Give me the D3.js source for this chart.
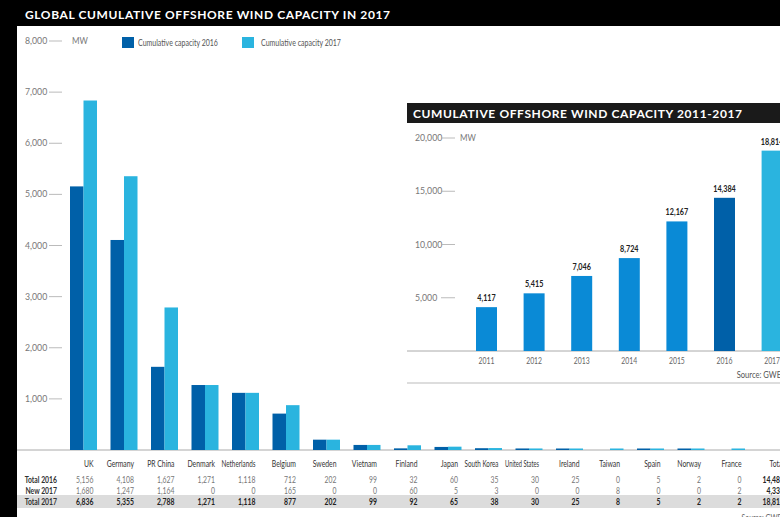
<!DOCTYPE html>
<html>
<head>
<meta charset="utf-8">
<script src="https://cdn.jsdelivr.net/npm/d3@7/dist/d3.min.js"></script>
<style>
  html, body { margin: 0; padding: 0; background: #000; }
  svg { display: block; }
  text { font-family: Lato, "Open Sans", sans-serif; }
</style>
</head>
<body>
<svg id="chart" width="780" height="517"></svg>
<script>
// Offshore wind capacity by country (MW)
const countries = ["UK", "Germany", "PR China", "Denmark", "Netherlands", "Belgium", "Sweden",
  "Vietnam", "Finland", "Japan", "South Korea", "United States", "Ireland", "Taiwan", "Spain",
  "Norway", "France"];
const total2016 = [5156, 4108, 1627, 1271, 1118, 712, 202, 99, 32, 60, 35, 30, 25, 0, 5, 2, 0];
const new2017 = [1680, 1247, 1164, 0, 0, 165, 0, 0, 60, 5, 3, 0, 0, 8, 0, 0, 2];
const total2017 = [6836, 5355, 2788, 1271, 1118, 877, 202, 99, 92, 65, 38, 30, 25, 8, 5, 2, 2];
const grandTotals = [14482, 4334, 18814];
const rowLabels = ["Total 2016", "New 2017", "Total 2017"];
const mainTicks = [1000, 2000, 3000, 4000, 5000, 6000, 7000, 8000];
const seriesNames = ["Cumulative capacity 2016", "Cumulative capacity 2017"];

// Global cumulative capacity by year (MW)
const years = ["2011", "2012", "2013", "2014", "2015", "2016", "2017"];
const yearTotals = [4117, 5415, 7046, 8724, 12167, 14384, 18814];
const insetTicks = [5000, 10000, 15000, 20000];

const DARK = "#0060a8", LIGHT = "#2ab4df", MID = "#0a8ad6";
const fmt = d3.format(",");

const svg = d3.select("#chart");

// condensed text: horizontally squeezed, optionally capped to a max width
function ntext(parent, x, y, str, o = {}) {
  const t = parent.append("text")
    .attr("font-size", o.size || 9.5)
    .attr("font-weight", o.weight || 400)
    .attr("fill", o.fill || "#555")
    .attr("text-anchor", o.anchor || "start")
    .text(str);
  let sx = o.sx || 0.72;
  if (o.maxW) {
    const w = t.node().getComputedTextLength();
    if (w * sx > o.maxW) sx = o.maxW / w;
  }
  t.attr("transform", `translate(${x},${y}) scale(${sx},1)`);
  return t;
}

// page background: white sheet with black frame on left and top
svg.append("rect").attr("x", 0).attr("y", 0).attr("width", 780).attr("height", 517).attr("fill", "#000");
svg.append("rect").attr("x", 17).attr("y", 26).attr("width", 763).attr("height", 491).attr("fill", "#fff");

// main title
svg.append("text")
  .attr("x", 25).attr("y", 19)
  .attr("fill", "#fff")
  .attr("font-family", "'Open Sans', sans-serif")
  .attr("font-weight", 700)
  .attr("font-size", 12)
  .attr("textLength", 365).attr("lengthAdjust", "spacing")
  .text("GLOBAL CUMULATIVE OFFSHORE WIND CAPACITY IN 2017");

// ---------- main grouped bar chart ----------
const cols = countries.concat(["Total"]);
const x = d3.scaleBand().domain(cols).range([63.25, 63.25 + cols.length * 40.5]);
const xInner = d3.scaleBand().domain([0, 1]).range([x.bandwidth() / 2 - 13.5, x.bandwidth() / 2 + 13.5]);
const y = d3.scaleLinear().domain([0, 8000]).range([450, 41]);

// y ticks with short dashes
const yt = svg.append("g");
mainTicks.forEach(t => {
  ntext(yt, 25, y(t) + 3, fmt(t), { fill: "#777", sx: 0.92 });
  yt.append("line").attr("x1", 49).attr("x2", 62).attr("y1", y(t)).attr("y2", y(t))
    .attr("stroke", "#aaa").attr("stroke-width", 0.8);
});
ntext(yt, 72, y(8000) + 3, "MW", { fill: "#777", sx: 0.85 });

// legend
const legend = svg.append("g");
[[DARK, 122, 138], [LIGHT, 242, 261]].forEach((d, i) => {
  legend.append("rect").attr("x", d[1]).attr("y", 37).attr("width", 12).attr("height", 11).attr("fill", d[0]);
  ntext(legend, d[2], 46, seriesNames[i], { fill: "#555", sx: 0.8, maxW: 80 });
});

// baseline
svg.append("line").attr("x1", 17).attr("x2", 780).attr("y1", 450).attr("y2", 450)
  .attr("stroke", "#aaa").attr("stroke-width", 1);

// bars (tiny non-zero values kept visible as a thin sliver)
const barH = v => v > 0 ? Math.max(1.5, y(0) - y(v)) : 0;
const groups = svg.append("g").selectAll("g").data(countries).join("g")
  .attr("transform", d => `translate(${x(d)},0)`);
groups.each(function (c, i) {
  const g = d3.select(this);
  [[total2016[i], DARK], [total2017[i], LIGHT]].forEach((s, k) => {
    const h = barH(s[0]);
    g.append("rect").attr("x", xInner(k)).attr("width", xInner.bandwidth())
      .attr("y", y(0) - h).attr("height", h).attr("fill", s[1]);
  });
});

// data table under the bars
const table = svg.append("g");
table.append("rect").attr("x", 17).attr("y", 495).attr("width", 763).attr("height", 13).attr("fill", "#dcdcdc");
const colX = c => x(c) + x.bandwidth() / 2 + (c === "Total" ? 12 : 10);
const rowY = [482.5, 493.5, 504.5];
cols.forEach(c => {
  ntext(table, colX(c), 467, c, { anchor: "end", fill: "#333", maxW: 34 });
});
rowLabels.forEach((r, j) => {
  ntext(table, 57, rowY[j], r, { anchor: "end", weight: 700, fill: "#333" });
});
[total2016, new2017, total2017].forEach((row, j) => {
  row.forEach((v, i) => {
    ntext(table, colX(countries[i]), rowY[j], fmt(v), {
      anchor: "end", weight: j === 2 ? 700 : 400, fill: j === 2 ? "#222" : "#777"
    });
  });
  ntext(table, colX("Total"), rowY[j], fmt(grandTotals[j]), { anchor: "end", weight: 700, fill: "#222" });
});
ntext(table, 786, 521, "Source: GWEC", { anchor: "end", fill: "#666" });

// ---------- inset: cumulative capacity 2011-2017 ----------
const inset = svg.append("g");
inset.append("rect").attr("x", 405).attr("y", 103).attr("width", 375).attr("height", 281).attr("fill", "#fff");
inset.append("rect").attr("x", 407).attr("y", 103).attr("width", 373).attr("height", 20).attr("fill", "#1a1a1a");
inset.append("text").attr("x", 413).attr("y", 118)
  .attr("fill", "#fff")
  .attr("font-family", "'Open Sans', sans-serif")
  .attr("font-weight", 700).attr("font-size", 12)
  .attr("textLength", 329).attr("lengthAdjust", "spacing")
  .text("CUMULATIVE OFFSHORE WIND CAPACITY 2011-2017");

const xi = d3.scaleBand().domain(years).range([462.7, 462.7 + 7 * 47.6]);
const yi = d3.scaleLinear().domain([0, 20000]).range([351, 138]);
const BW = 21;

const it = inset.append("g");
insetTicks.forEach(t => {
  ntext(it, 415, yi(t) + 3, fmt(t), { fill: "#777", sx: 0.92 });
  it.append("line").attr("x1", 441).attr("x2", 455).attr("y1", yi(t)).attr("y2", yi(t))
    .attr("stroke", "#aaa").attr("stroke-width", 0.8);
});
ntext(it, 460, yi(20000) + 3, "MW", { fill: "#777", sx: 0.85 });

inset.append("line").attr("x1", 407).attr("x2", 780).attr("y1", 351).attr("y2", 351)
  .attr("stroke", "#aaa").attr("stroke-width", 1);
inset.append("line").attr("x1", 407).attr("x2", 780).attr("y1", 383).attr("y2", 383)
  .attr("stroke", "#bbb").attr("stroke-width", 1);

const ibars = inset.append("g").selectAll("g").data(years).join("g")
  .attr("transform", d => `translate(${xi(d) + xi.bandwidth() / 2},0)`);
ibars.append("rect")
  .attr("x", -BW / 2).attr("width", BW)
  .attr("y", (d, i) => yi(yearTotals[i]))
  .attr("height", (d, i) => yi(0) - yi(yearTotals[i]))
  .attr("fill", (d, i) => i === 5 ? DARK : i === 6 ? LIGHT : MID);
ibars.each(function (d, i) {
  const g = d3.select(this);
  ntext(g, 0, yi(yearTotals[i]) - 6, fmt(yearTotals[i]), { anchor: "middle", weight: 700, fill: "#222", sx: 0.76 });
  ntext(g, 0, 363.5, d, { anchor: "middle", fill: "#666" });
});
ntext(inset, 786, 378, "Source: GWEC", { anchor: "end", fill: "#555", sx: 0.8 });
</script>
</body>
</html>
